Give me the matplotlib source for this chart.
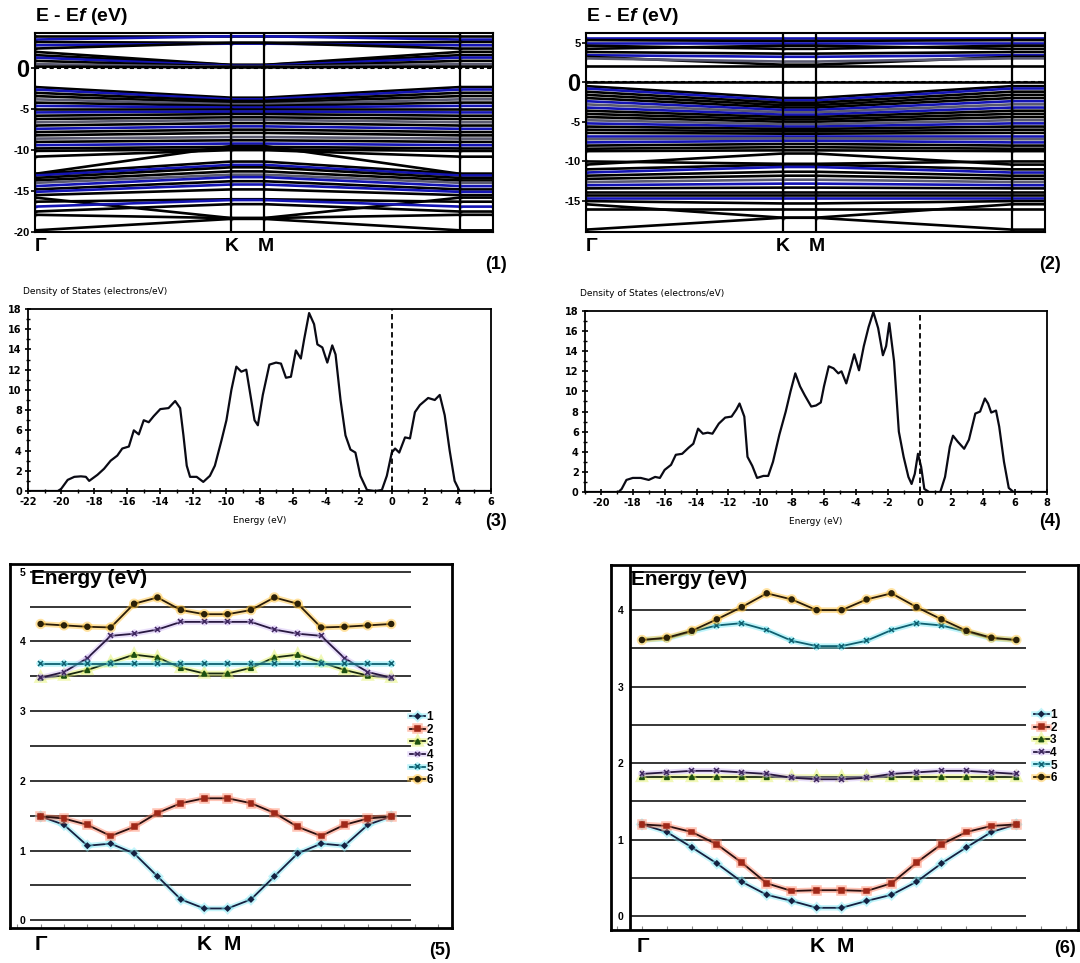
import numpy as np
import matplotlib
matplotlib.use('Agg')
import matplotlib.pyplot as plt
import matplotlib.patheffects as pe
from matplotlib.ticker import MultipleLocator

plt.rcParams['font.family'] = 'Liberation Sans'
plt.rcParams['mathtext.fontset'] = 'custom'
plt.rcParams['mathtext.it'] = 'Liberation Sans:italic:bold'
plt.rcParams['mathtext.rm'] = 'Liberation Sans:bold'

# ---------------- band structure (1): energy at Gamma and at K for each band
p1_gamma = [3.9, 3.5, 3.2, 2.8, 2.4, 2.0, 1.6, 1.3, 0.9, 0.5, 0.2,
            -2.3, -2.6, -3.0, -3.4, -3.8, -4.2, -4.6, -5.0, -5.4, -5.8, -6.2, -6.6,
            -7.0, -7.4, -7.8, -8.2, -8.6, -9.0, -9.4, -9.8, -10.1, -10.8,
            -12.9, -12.9, -13.1, -13.4, -13.7, -14.0, -14.4, -14.8, -15.1, -15.5,
            -15.8, -16.3, -16.9, -17.5, -17.9, -19.8]
p1_k = [3.9, 3.9, 3.1, 3.0, 3.1, 0.4, 0.4, 0.3, 0.2, 0.15, 0.1,
        -3.6, -3.8, -4.0, -4.2, -4.4, -4.6, -4.8, -5.0, -5.3, -5.6, -6.0, -6.3,
        -6.7, -7.1, -7.5, -7.9, -8.4, -8.8, -9.2, -9.6, -9.9, -10.0,
        -11.4, -9.5, -11.8, -12.1, -12.6, -13.0, -13.3, -13.8, -14.2, -14.8,
        -18.3, -16.0, -16.1, -16.6, -18.3, -18.4]
p1_col = ['k', 'b', 'k', 'b', 'k', 'k', 'k', 'b', 'k', 'g', 'k',
          'k', 'b', 'k', 'k', 'g', 'k', 'b', 'k', 'b', 'k', 'k', 'g',
          'k', 'b', 'k', 'k', 'g', 'k', 'b', 'k', 'k', 'k',
          'k', 'k', 'b', 'k', 'k', 'g', 'b', 'k', 'b', 'k',
          'k', 'k', 'b', 'k', 'k', 'k']

# ---------------- band structure (2)
p2_gamma = [5.6, 5.3, 5.0, 4.6, 4.2, 3.8, 3.4, 3.2, 3.0, 2.0, 0.0,
            -0.5, -0.8, -1.2, -1.6, -2.0, -2.4, -2.8, -3.2, -3.6, -4.0, -4.4, -4.8,
            -5.2, -5.6, -6.0, -6.4, -6.8, -7.2, -7.6, -8.0, -8.4, -8.7,
            -10.0, -10.4, -11.0, -11.4, -11.8, -12.2, -12.6, -13.0, -13.4, -13.8,
            -14.2, -14.6, -15.0, -15.4, -16.0, -18.6]
p2_k = [5.6, 5.2, 5.0, 4.2, 4.6, 3.6, 3.2, 2.2, 2.6, 2.0, 0.0,
        -2.0, -2.3, -2.6, -2.9, -3.2, -3.5, -3.8, -4.1, -4.4, -4.7, -5.0, -5.3,
        -5.6, -5.9, -6.2, -6.5, -6.8, -7.1, -7.4, -7.8, -8.2, -8.6,
        -10.3, -9.0, -10.4, -10.7, -11.3, -11.8, -12.3, -12.8, -13.3, -13.8,
        -14.2, -14.6, -15.3, -17.1, -16.0, -17.1]
p2_col = ['b', 'k', 'b', 'k', 'k', 'k', 'b', 'k', 'g', 'k', 'k',
          'k', 'b', 'k', 'k', 'k', 'b', 'g', 'b', 'k', 'k', 'k', 'g',
          'b', 'k', 'k', 'k', 'b', 'g', 'b', 'k', 'k', 'k',
          'k', 'k', 'k', 'b', 'k', 'k', 'g', 'b', 'k', 'k',
          'k', 'b', 'k', 'k', 'k', 'k']

# ---------------- density of states (3)
dos3_e = [-22, -20.2, -20.0, -19.6, -19.2, -18.8, -18.5, -18.3, -17.8, -17.4, -17.0,
          -16.6, -16.3, -15.9, -15.6, -15.3, -15.0, -14.7, -14.4, -14.0, -13.5, -13.1,
          -12.8, -12.6, -12.4, -12.2, -11.8, -11.4, -11.0, -10.7, -10.3, -10.0, -9.7,
          -9.4, -9.1, -8.8, -8.6, -8.3, -8.1, -7.8, -7.4, -7.0, -6.7, -6.4, -6.1,
          -5.8, -5.5, -5.3, -5.0, -4.7, -4.5, -4.2, -3.9, -3.6, -3.4, -3.1, -2.8,
          -2.5, -2.2, -1.9, -1.5, -1.0, -0.6, -0.3, 0.0, 0.2, 0.45, 0.8, 1.1,
          1.4, 1.7, 2.2, 2.6, 2.9, 3.2, 3.5, 3.8, 4.1, 6.0]
dos3_v = [0, 0, 0.2, 1.1, 1.4, 1.45, 1.4, 1.0, 1.6, 2.2, 3.0,
          3.5, 4.2, 4.4, 6.0, 5.6, 7.0, 6.8, 7.4, 8.1, 8.2, 8.9,
          8.2, 5.5, 2.5, 1.4, 1.4, 0.9, 1.5, 2.5, 5.0, 7.0, 10.0,
          12.3, 11.8, 12.0, 10.0, 7.0, 6.5, 9.5, 12.5, 12.7, 12.6, 11.2, 11.3,
          13.9, 13.1, 15.0, 17.6, 16.5, 14.5, 14.2, 12.7, 14.4, 13.5, 9.0, 5.5,
          4.1, 3.8, 1.5, 0.1, 0, 0.1, 1.5, 3.8, 4.2, 3.8, 5.3, 5.2,
          7.8, 8.5, 9.2, 9.0, 9.5, 7.5, 4.0, 1.0, 0, 0]

# ---------------- density of states (4)
dos4_e = [-21, -18.9, -18.7, -18.4, -18.0, -17.5, -17.0, -16.6, -16.3, -16.0, -15.6,
          -15.3, -14.9, -14.5, -14.2, -13.9, -13.6, -13.3, -13.0, -12.6, -12.2, -11.8,
          -11.5, -11.3, -11.0, -10.8, -10.5, -10.2, -9.8, -9.5, -9.2, -8.8, -8.4,
          -8.1, -7.8, -7.5, -7.2, -6.8, -6.5, -6.2, -6.0, -5.7, -5.4, -5.1, -4.9,
          -4.6, -4.3, -4.1, -3.8, -3.5, -3.2, -2.9, -2.6, -2.3, -2.1, -1.9, -1.6,
          -1.3, -1.0, -0.7, -0.5, -0.3, -0.1, 0.1, 0.3, 0.6, 1.3, 1.6, 1.9,
          2.1, 2.4, 2.8, 3.1, 3.5, 3.8, 4.1, 4.3, 4.5, 4.8, 5.0, 5.3,
          5.6, 5.9, 8.0]
dos4_v = [0, 0, 0.3, 1.2, 1.4, 1.4, 1.2, 1.5, 1.4, 2.2, 2.7,
          3.7, 3.8, 4.4, 4.8, 6.3, 5.8, 5.9, 5.8, 6.8, 7.4, 7.5,
          8.2, 8.8, 7.5, 3.5, 2.6, 1.4, 1.6, 1.6, 3.0, 5.7, 8.0,
          10.0, 11.8, 10.5, 9.6, 8.5, 8.6, 8.9, 10.5, 12.5, 12.3, 11.8, 12.0,
          10.8, 12.5, 13.7, 12.1, 14.5, 16.4, 17.9, 16.3, 13.6, 14.5, 16.8, 13.0,
          6.0, 3.5, 1.5, 0.8, 1.8, 3.8, 2.5, 0.3, 0, 0, 1.5, 4.5,
          5.6, 5.0, 4.3, 5.2, 7.8, 8.0, 9.3, 8.8, 7.9, 8.1, 6.5, 3.0,
          0.4, 0, 0]

# ---------------- bands near the gap (5)
p5_b1 = [1.49, 1.37, 1.07, 1.10, 0.96, 0.63, 0.30, 0.17, 0.17, 0.30, 0.63, 0.96, 1.10, 1.07, 1.37, 1.49]
p5_b2 = [1.49, 1.46, 1.37, 1.21, 1.34, 1.54, 1.68, 1.75, 1.75, 1.68, 1.54, 1.34, 1.21, 1.37, 1.46, 1.49]
p5_b3 = [3.48, 3.51, 3.59, 3.70, 3.81, 3.77, 3.62, 3.54, 3.54, 3.62, 3.77, 3.81, 3.70, 3.59, 3.51, 3.48]
p5_b4 = [3.48, 3.56, 3.76, 4.08, 4.11, 4.17, 4.28, 4.28, 4.28, 4.28, 4.17, 4.11, 4.08, 3.76, 3.56, 3.48]
p5_b5 = [3.68] * 16
p5_b6 = [4.25, 4.23, 4.21, 4.20, 4.54, 4.63, 4.45, 4.39, 4.39, 4.45, 4.63, 4.54, 4.20, 4.21, 4.23, 4.25]

# ---------------- bands near the gap (6)
p6_b1 = [1.20, 1.10, 0.90, 0.69, 0.45, 0.28, 0.20, 0.11, 0.11, 0.20, 0.28, 0.45, 0.69, 0.90, 1.10, 1.20]
p6_b2 = [1.20, 1.18, 1.10, 0.94, 0.70, 0.43, 0.33, 0.34, 0.34, 0.33, 0.43, 0.70, 0.94, 1.10, 1.18, 1.20]
p6_b3 = [1.82] * 16
p6_b4 = [1.86, 1.88, 1.90, 1.90, 1.88, 1.86, 1.81, 1.79, 1.79, 1.81, 1.86, 1.88, 1.90, 1.90, 1.88, 1.86]
p6_b5 = [3.61, 3.63, 3.72, 3.80, 3.83, 3.74, 3.60, 3.53, 3.53, 3.60, 3.74, 3.83, 3.80, 3.72, 3.63, 3.61]
p6_b6 = [3.61, 3.64, 3.73, 3.88, 4.04, 4.22, 4.14, 4.00, 4.00, 4.14, 4.22, 4.04, 3.88, 3.73, 3.64, 3.61]

series_labels = ['1', '2', '3', '4', '5', '6']

W, H = 1080, 963
fig = plt.figure(figsize=(W / 100, H / 100), dpi=100)


def box(l, t, r, b):
    return fig.add_axes([l / W, 1 - b / H, (r - l) / W, (b - t) / H])


band_colors = {'k': '#000000', 'b': '#1414b4', 'g': '#5a5a70'}
kpath = [0, 6, 7, 13, 14]


def band_panel(ax, e_g, e_k, cols, ylim, ticks, tag, tag_x):
    for eg, ek, c in zip(e_g, e_k, cols):
        ax.plot(kpath, [eg, ek, ek, eg, eg], color=band_colors[c], lw=1.9,
                marker='+', ms=3, mew=1)
    ax.axhline(0, color='k', lw=1.5, ls=(0, (2, 1.5)))
    for xv in (6, 7, 13):
        ax.axvline(xv, color='k', lw=1.6)
    ax.set_xlim(0, 14)
    ax.set_ylim(*ylim)
    ax.set_xticks([])
    ax.set_yticks(ticks, [str(t) for t in ticks])
    ax.tick_params(axis='y', length=3, width=1.2, labelsize=8, pad=1)
    for lbl in ax.get_yticklabels():
        lbl.set_fontweight('bold')
        if lbl.get_text() == '0':
            lbl.set_fontsize(17)
    for s in ax.spines.values():
        s.set_linewidth(1.5)
    tr = ax.get_xaxis_transform()
    ax.text(0, -0.03, 'Γ', transform=tr, ha='left', va='top', fontsize=14, fontweight='bold')
    ax.text(6, -0.03, 'K', transform=tr, ha='center', va='top', fontsize=14, fontweight='bold')
    ax.text(7.05, -0.03, 'M', transform=tr, ha='center', va='top', fontsize=14, fontweight='bold')
    ax.text(0, 1.03, r'E - E$\mathit{f}$ (eV)', transform=ax.transAxes, ha='left', va='bottom',
            fontsize=14, fontweight='bold')
    fig.text(tag_x / W, 1 - 264 / H, tag, ha='center', va='center', fontsize=13, fontweight='bold')


ax1 = box(35, 33, 493, 232)
band_panel(ax1, p1_gamma, p1_k, p1_col, (-20, 4.3), [0, -5, -10, -15, -20], '(1)', 496)
ax2 = box(586, 33, 1045, 232)
band_panel(ax2, p2_gamma, p2_k, p2_col, (-18.9, 6.2), [5, 0, -5, -10, -15], '(2)', 1050)


def dos_panel(ax, e, v, xlim, xticks, tag, tag_x):
    ax.plot(e, v, color='#0a0a14', lw=1.6)
    ax.axvline(0, color='k', lw=1.3, ls=(0, (3, 2)))
    ax.set_xlim(*xlim)
    ax.set_ylim(0, 18)
    ax.set_xticks(xticks, [str(t) for t in xticks])
    ax.set_yticks(range(0, 19, 2))
    ax.xaxis.set_minor_locator(MultipleLocator(1))
    ax.yaxis.set_minor_locator(MultipleLocator(1))
    ax.tick_params(which='major', direction='inout', length=5, width=1.2,
                   labelsize=7, pad=2)
    ax.tick_params(which='minor', direction='inout', length=3, width=1)
    for lbl in ax.get_xticklabels() + ax.get_yticklabels():
        lbl.set_fontweight('bold')
        lbl.set_fontfamily('DejaVu Sans')
    for s in ax.spines.values():
        s.set_linewidth(1.3)
    ax.set_xlabel('Energy (eV)', fontsize=6.5, family='DejaVu Sans', labelpad=6)
    ax.text(-0.01, 1.07, 'Density of States (electrons/eV)', transform=ax.transAxes,
            fontsize=6.5, family='DejaVu Sans', ha='left', va='bottom')
    fig.text(tag_x / W, 1 - 521 / H, tag, ha='center', va='center', fontsize=13, fontweight='bold')


ax3 = box(28, 309, 491, 491)
dos_panel(ax3, dos3_e, dos3_v, (-22, 6), list(range(-22, 7, 2)), '(3)', 496)
ax4 = box(585, 311, 1047, 492)
dos_panel(ax4, dos4_e, dos4_v, (-21, 8), list(range(-20, 9, 2)), '(4)', 1050)

line_cols = ['#152040', '#2a1010', '#1a2a10', '#281840', '#106070', '#2a1c08']
marker_cols = ['#152040', '#a02818', '#1c5010', '#402860', '#106070', '#2a2008']
glow_cols = ['#80e8f4', '#ff8060', '#e0f060', '#d0b8f4', '#70e8f4', '#ffc030']
markers = ['D', 's', '^', 'x', 'x', 'o']
msizes = [2.5, 3.5, 3.5, 3.5, 3.5, 3.5]


def gap_panel(ax, series, ylim, ticks, gx, kx, mx, tag, tag_x, tag_y, label_pad, inner_line):
    idx = np.arange(len(series[0]))
    for k, vals in enumerate(series):
        ax.plot(idx, vals, color=line_cols[k], lw=1.3, marker=markers[k], ms=msizes[k],
                mfc=marker_cols[k], mec=marker_cols[k], mew=1.1, label=series_labels[k],
                path_effects=[pe.Stroke(linewidth=4, foreground=glow_cols[k], alpha=0.45),
                              pe.Normal()])
    ax.hlines(np.arange(0, ylim[1], 0.5), gx[0], gx[1], colors='k', lw=1.1, zorder=0)
    if inner_line:
        ax.axvline(gx[0], color='k', lw=2)
    ax.set_xlim(*ax_x[tag])
    ax.set_ylim(*ylim)
    ax.set_yticks(ticks, [str(t) for t in ticks])
    ax.tick_params(axis='y', length=0, pad=label_pad, labelsize=7.5)
    for lbl in ax.get_yticklabels():
        lbl.set_fontweight('bold')
    ax.set_xticks(np.arange(-1, 18))
    ax.tick_params(axis='x', direction='in', length=3, labelbottom=False, color='#888888')
    for s in ax.spines.values():
        s.set_linewidth(2)
    tr = ax.get_xaxis_transform()
    ax.text(gx_l[tag], -0.02, 'Γ', transform=tr, ha='center', va='top', fontsize=15, fontweight='bold')
    ax.text(kx, -0.02, 'K', transform=tr, ha='center', va='top', fontsize=15, fontweight='bold')
    ax.text(mx, -0.02, 'M', transform=tr, ha='center', va='top', fontsize=15, fontweight='bold')
    ax.text(gx[0] + 0.05, 0.985, 'Energy (eV)', transform=tr, ha='left', va='top',
            fontsize=15, fontweight='bold')
    ax.legend(loc='upper left', bbox_to_anchor=legend_anchor[tag], frameon=False,
              prop={'weight': 'bold', 'size': 8.5}, handlelength=1.3, handletextpad=0.1,
              labelspacing=0.05, borderpad=0, borderaxespad=0)
    fig.text(tag_x / W, 1 - tag_y / H, tag, ha='center', va='center', fontsize=13, fontweight='bold')


ax_x = {'(5)': (-1.31, 17.6), '(6)': (-1.24, 17.47)}
gx_l = {'(5)': 0.0, '(6)': 0.05}
legend_anchor = {'(5)': (0.905, 0.595), '(6)': (0.905, 0.605)}

ax5 = box(10, 564, 452, 928)
gap_panel(ax5, [p5_b1, p5_b2, p5_b3, p5_b4, p5_b5, p5_b6], (-0.11, 5.11),
          [0, 1, 2, 3, 4, 5], (-0.46, 15.83), 7, 8.2, '(5)', 440, 950, -11, False)
ax6 = box(611, 565, 1078, 930)
gap_panel(ax6, [p6_b1, p6_b2, p6_b3, p6_b4, p6_b5, p6_b6], (-0.18, 4.59),
          [0, 1, 2, 3, 4], (-0.49, 15.4), 7, 8.15, '(6)', 1065, 948, -9, True)

fig.savefig('out.png', dpi=100, facecolor='white')
